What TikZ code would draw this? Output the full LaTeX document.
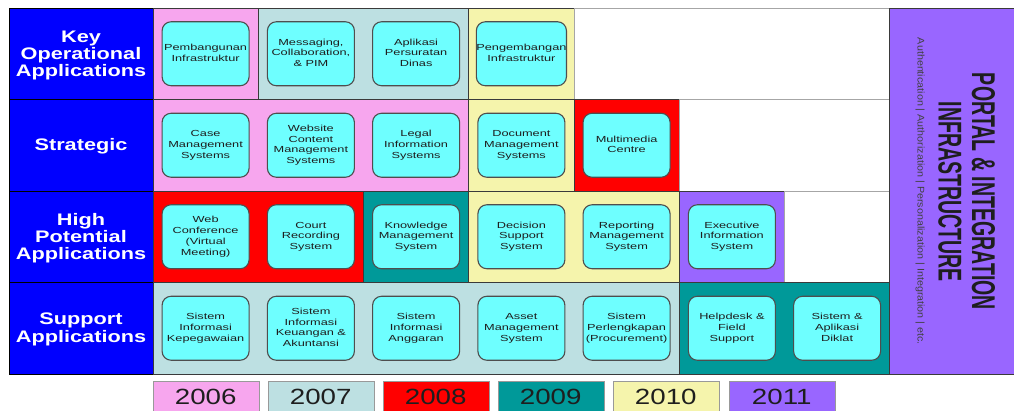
\documentclass[tikz,border=0pt]{standalone}
\usepackage{fontspec}
\setmainfont{Liberation Sans}
\usepackage{graphicx}

\definecolor{y2006}{HTML}{F7A6EE}
\definecolor{y2007}{HTML}{BDE0E2}
\definecolor{y2008}{HTML}{FF0000}
\definecolor{y2009}{HTML}{009999}
\definecolor{y2010}{HTML}{F5F4AC}
\definecolor{y2011}{HTML}{9966FF}
\definecolor{appcyan}{HTML}{6EFFFF}
\definecolor{rowblue}{HTML}{0000FF}
\definecolor{edge}{HTML}{3A3A3A}
\definecolor{inkdark}{HTML}{1E1E1E}

% text helpers: wide sans text, as in the original chart
\newcommand\apptext[1]{\scalebox{1.45}[1]{\fontsize{8.8}{10.8}\selectfont\begin{tabular}{@{}c@{}}#1\end{tabular}}}
\newcommand\rowtext[1]{\scalebox{1.3}[1]{\fontsize{16.7}{17.3}\selectfont\bfseries\begin{tabular}{@{}c@{}}#1\end{tabular}}}
\newcommand\yeartext[1]{\scalebox{1.26}[1]{\fontsize{22}{24}\selectfont #1}}

\tikzset{
  block/.style={draw=edge, line width=0.9pt},
  blank/.style={draw=gray!70, line width=0.9pt, fill=white},
  rowcell/.style={draw=black, line width=0.9pt, fill=rowblue},
  rowlabel/.style={text=white, inner sep=0pt},
  app/.style={draw=edge!90, line width=1.1pt, fill=appcyan, rounded corners=9pt,
    minimum width=87pt, minimum height=64pt, inner sep=0pt, text=inkdark},
  legendbox/.style={draw=gray!80, line width=1pt, minimum width=105.5pt,
    minimum height=32pt, inner sep=0pt, anchor=north west},
  yearlabel/.style={text=inkdark, inner sep=0pt},
}

\begin{document}
\begin{tikzpicture}[x=1pt, y=-1pt]
\clip (0,0) rectangle (1014,411);
\fill[white] (0,0) rectangle (1014,411);

% row headings
\draw[rowcell] (9,8) rectangle (153,99.5);
\draw[rowcell] (9,99.5) rectangle (153,191);
\draw[rowcell] (9,191) rectangle (153,282.5);
\draw[rowcell] (9,282.5) rectangle (153,374);
\node[rowlabel] (hkey) at (81,56) {\rowtext{Key\\Operational\\Applications}};
\node[rowlabel] (hstr) at (81,147.5) {\rowtext{Strategic}};
\node[rowlabel] (hhigh) at (81,239) {\rowtext{High\\Potential\\Applications}};
\node[rowlabel] (hsup) at (81,330) {\rowtext{Support\\Applications}};

% row 1: key operational
\draw[block, fill=y2006] (153,8) rectangle (258.25,99.5);
\draw[block, fill=y2007] (258.25,8) rectangle (468.75,99.5);
\draw[block, fill=y2010] (468.75,8) rectangle (574,99.5);
\draw[blank] (574,8) rectangle (889.75,99.5);

% row 2: strategic
\draw[block, fill=y2006] (153,99.5) rectangle (468.75,191);
\draw[block, fill=y2010] (468.75,99.5) rectangle (574,191);
\draw[block, fill=y2008] (574,99.5) rectangle (679.25,191);
\draw[blank] (679.25,99.5) rectangle (889.75,191);

% row 3: high potential
\draw[block, fill=y2008] (153,191) rectangle (363.5,282.5);
\draw[block, fill=y2009] (363.5,191) rectangle (468.75,282.5);
\draw[block, fill=y2010] (468.75,191) rectangle (679.25,282.5);
\draw[block, fill=y2011] (679.25,191) rectangle (784.5,282.5);
\draw[blank] (784.5,191) rectangle (889.75,282.5);

% row 4: support
\draw[block, fill=y2007] (153,282.5) rectangle (679.25,374);
\draw[block, fill=y2009] (679.25,282.5) rectangle (889.75,374);

% portal & integration column
\draw[block, fill=y2011] (889.75,8) rectangle (1016,374);
\node[rotate=-90, inner sep=0pt, text=inkdark] (portal1) at (983.5,191.5)
  {\resizebox{237pt}{23pt}{\bfseries PORTAL \& INTEGRATION}};
\node[rotate=-90, inner sep=0pt, text=inkdark] (portal2) at (950,192)
  {\resizebox{180pt}{23pt}{\bfseries INFRASTRUCTURE}};
\node[rotate=-90, inner sep=0pt, text=inkdark!85] (portal3) at (920,191.5)
  {\resizebox{307pt}{7pt}{Authentication | Authorization | Personalization | Integration | etc.}};

% applications, row 1
\node[app] (a11) at (205.6,53.75) {\apptext{Pembangunan\\Infrastruktur}};
\node[app] (a12) at (310.9,53.75) {\apptext{Messaging,\\Collaboration,\\\& PIM}};
\node[app] (a13) at (416.1,53.75) {\apptext{Aplikasi\\Persuratan\\Dinas}};
\node[app] (a14) at (521.4,53.75) {\apptext{Pengembangan\\Infrastruktur}};

% applications, row 2
\node[app] (a21) at (205.6,145.25) {\apptext{Case\\Management\\Systems}};
\node[app] (a22) at (310.9,145.25) {\apptext{Website\\Content\\Management\\Systems}};
\node[app] (a23) at (416.1,145.25) {\apptext{Legal\\Information\\Systems}};
\node[app] (a24) at (521.4,145.25) {\apptext{Document\\Management\\Systems}};
\node[app] (a25) at (626.6,145.25) {\apptext{Multimedia\\Centre}};

% applications, row 3
\node[app] (a31) at (205.6,236.75) {\apptext{Web\\Conference\\(Virtual\\Meeting)}};
\node[app] (a32) at (310.9,236.75) {\apptext{Court\\Recording\\System}};
\node[app] (a33) at (416.1,236.75) {\apptext{Knowledge\\Management\\System}};
\node[app] (a34) at (521.4,236.75) {\apptext{Decision\\Support\\System}};
\node[app] (a35) at (626.6,236.75) {\apptext{Reporting\\Management\\System}};
\node[app] (a36) at (731.9,236.75) {\apptext{Executive\\Information\\System}};

% applications, row 4
\node[app] (a41) at (205.6,328.25) {\apptext{Sistem\\Informasi\\Kepegawaian}};
\node[app] (a42) at (310.9,328.25) {\apptext{Sistem\\Informasi\\Keuangan \&\\Akuntansi}};
\node[app] (a43) at (416.1,328.25) {\apptext{Sistem\\Informasi\\Anggaran}};
\node[app] (a44) at (521.4,328.25) {\apptext{Asset\\Management\\System}};
\node[app] (a45) at (626.6,328.25) {\apptext{Sistem\\Perlengkapan\\(Procurement)}};
\node[app] (a46) at (731.9,328.25) {\apptext{Helpdesk \&\\Field\\Support}};
\node[app] (a47) at (837.1,328.25) {\apptext{Sistem \&\\Aplikasi\\Diklat}};

% year legend
\node[legendbox, fill=y2006] (k2006) at (153,381) {};
\node[legendbox, fill=y2007] (k2007) at (268,381) {};
\node[legendbox, fill=y2008] (k2008) at (383,381) {};
\node[legendbox, fill=y2009] (k2009) at (498,381) {};
\node[legendbox, fill=y2010] (k2010) at (613,381) {};
\node[legendbox, fill=y2011] (k2011) at (729,381) {};
\node[yearlabel] (t2006) at (205.75,397) {\yeartext{2006}};
\node[yearlabel] (t2007) at (320.75,397) {\yeartext{2007}};
\node[yearlabel] (t2008) at (435.75,397) {\yeartext{2008}};
\node[yearlabel] (t2009) at (550.75,397) {\yeartext{2009}};
\node[yearlabel] (t2010) at (665.75,397) {\yeartext{2010}};
\node[yearlabel] (t2011) at (781.75,397) {\yeartext{2011}};
\end{tikzpicture}
\end{document}
